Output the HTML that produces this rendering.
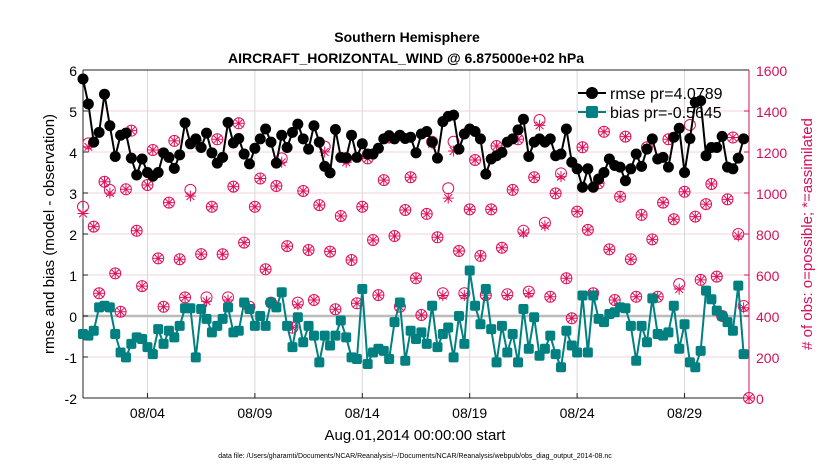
<!DOCTYPE html>
<html><head><meta charset="utf-8"><style>
body{margin:0;background:#fff;}
svg{display:block;font-family:"Liberation Sans",Arial,sans-serif;}
</style></head><body>
<svg id="chart" width="830" height="470" viewBox="0 0 830 470">
<g id="grid"></g>
<g id="axes"></g>
<g id="series"></g>
<text x="407" y="42" text-anchor="middle" font-size="14" font-weight="bold">Southern Hemisphere</text>
<text x="406" y="63" text-anchor="middle" font-size="14" font-weight="bold">AIRCRAFT_HORIZONTAL_WIND @ 6.875000e+02 hPa</text>
<text x="415" y="440" text-anchor="middle" font-size="15">Aug.01,2014 00:00:00 start</text>
<text x="415" y="458" text-anchor="middle" font-size="7">data file: /Users/gharamti/Documents/NCAR/Reanalysis/~/Documents/NCAR/Reanalysis/webpub/obs_diag_output_2014-08.nc</text>
<text transform="translate(54,234) rotate(-90)" text-anchor="middle" font-size="15">rmse and bias (model - observation)</text>
<text transform="translate(812,234) rotate(-90)" text-anchor="middle" font-size="15" fill="#d6105a"># of obs: o=possible; *=assimilated</text>
<g id="legend"></g>
</svg>
<script>
const xTickLabels=["08/04","08/09","08/14","08/19","08/24","08/29"];
const xTickDays=[3,8,13,18,23,28];
const leftTicks=[-2,-1,0,1,2,3,4,5,6];
const rightTicks=[0,200,400,600,800,1000,1200,1400,1600];
const rmse=[5.78,5.17,4.24,4.48,5.41,4.64,3.89,4.41,4.46,3.85,3.44,3.83,3.5,3.41,3.5,3.98,3.87,3.6,3.93,4.71,4.2,4.32,4.11,4.46,3.98,3.73,3.87,4.72,4.22,4.33,3.95,3.71,
4.09,4.32,4.56,4.24,3.73,4.41,4.11,4.48,4.68,4.32,4.07,4.64,4.24,3.65,3.49,4.55,3.87,3.86,4.41,3.87,4.2,3.95,3.95,4.09,4.32,4.4,4.32,4.41,4.33,
4.36,3.98,4.44,4.5,4.24,3.85,4.74,4.87,4.9,4.07,4.44,4.56,4.5,4.32,3.46,3.83,3.91,3.99,4.24,4.32,4.54,4.8,3.89,4.24,4.32,4.24,4.32,3.91,3.95,4.56,3.75,3.59,3.14,
3.59,3.14,3.34,3.5,3.83,3.67,3.63,3.3,3.59,3.95,3.65,4.07,4.32,3.83,3.87,3.63,4.36,4.58,3.5,4.33,5.21,5.25,3.91,4.11,4.11,4.38,3.63,3.59,3.85,4.32];
const bias=[-0.44,-0.48,-0.36,0.21,0.25,0.21,-0.44,-0.89,-1.01,-0.68,-0.52,-0.56,-0.76,-0.93,-0.32,-0.68,-0.36,-0.52,-0.24,0.19,0.19,-1.01,0.17,-0.07,-0.4,-0.24,-0.07,0.21,-0.4,-0.36,0.33,0.17,
-0.24,0,-0.24,0.33,0.21,0.58,-0.24,-0.76,-0.03,-0.64,-0.24,-0.48,-1.13,-0.48,-0.72,-0.48,-0.11,-0.52,-1.01,-1.05,0.66,-1.17,-0.89,-0.8,-0.85,-1.05,-0.15,0.33,-1.09,-0.36,-0.56,
-0.4,-0.68,0.25,-0.76,-0.44,-0.28,-1.01,0,-0.68,1.11,0.25,-0.2,0.66,-0.32,-1.13,-0.24,-0.89,-0.44,-1.13,0.17,-0.8,-0.03,-0.97,-0.8,-0.48,-0.93,-1.25,-0.36,-0.72,-0.89,0.5,
-0.89,0.5,-0.07,-0.15,0.05,0.09,0.21,0.19,-0.24,-1.09,-0.24,-0.64,0.43,-0.44,-0.48,-0.4,0.25,-0.8,-0.2,-1.13,-1.25,-0.85,0.62,0.41,0.13,0,-0.15,-0.36,0.74,-0.93];
const possible=[933,1242,836,511,1055,1015,608,421,1018,1304,816,546,1039,1210,681,445,953,1254,677,491,1015,1255,702,491,933,1262,701,491,1031,1340,758,
445,933,1071,628,465,1034,1169,741,343,465,1010,722,478,941,1226,714,433,888,1169,673,462,933,1169,771,502,1063,1271,790,445,917,1077,584,405,
898,1250,784,511,1023,1250,717,511,920,1161,693,502,920,1229,733,506,1015,1262,816,519,1077,1356,855,494,998,1096,584,389,909,1223,820,
511,1047,1299,725,478,982,1275,677,494,893,1223,774,494,953,1262,872,556,1006,1332,885,576,946,1044,592,400,969,1271,800,449,0];
const assimilated=[900,1225,836,511,1055,1000,608,421,1018,1304,816,546,1039,1210,681,445,953,1254,677,491,985,1240,702,472,933,1262,701,478,1031,1340,758,
440,933,1071,628,465,1034,1150,741,343,455,1010,722,478,941,1200,714,433,888,1150,673,462,933,1169,771,502,1063,1271,790,445,917,1077,584,405,
898,1240,784,500,975,1205,717,500,920,1161,693,502,920,1229,733,500,1015,1262,805,510,1077,1330,840,494,998,1080,584,389,909,1223,820,
511,1047,1299,725,478,982,1275,677,494,893,1223,774,494,953,1262,872,531,1006,1262,885,576,946,1044,592,400,969,1271,790,440,0];

const NS="http://www.w3.org/2000/svg";
const L=83,R=749,T=70,B=398;
const x=d=>L+(d/31)*(R-L);
const yl=v=>B-(v+2)/8*(B-T);
const yr=v=>B-v/1600*(B-T);
function mk(tag,attrs,parent){const e=document.createElementNS(NS,tag);for(const k in attrs)e.setAttribute(k,attrs[k]);parent.appendChild(e);return e;}
const grid=document.getElementById('grid'),axes=document.getElementById('axes'),ser=document.getElementById('series'),leg=document.getElementById('legend');

leftTicks.forEach((v,i)=>{
  const g=mk('line',{x1:L,x2:R,y1:yl(v),y2:yl(v),stroke:'#f2d3de','stroke-width':1},grid);
  
  
  const t=mk('text',{x:L-6,y:yl(v)+6,'text-anchor':'end','font-size':14},axes);t.textContent=v;
  
  
  mk('line',{x1:L,x2:L+5,y1:yl(v),y2:yl(v),stroke:'#222'},axes);
});
rightTicks.forEach(v=>{
  const t=mk('text',{x:R+7,y:yr(v)+6,'font-size':14,fill:'#d6105a'},axes);t.textContent=v;
  
  
  mk('line',{x1:R-5,x2:R,y1:yr(v),y2:yr(v),stroke:'#d6105a'},axes);
});
xTickDays.forEach((d,i)=>{
  const g=mk('line',{x1:x(d),x2:x(d),y1:T,y2:B,stroke:'#d8d8d8','stroke-width':1},grid);
  
  
  mk('line',{x1:x(d),x2:x(d),y1:B,y2:B-5,stroke:'#222'},axes);
  const t=mk('text',{x:x(d),y:B+20,'text-anchor':'middle','font-size':14},axes);t.textContent=xTickLabels[i];
  
  
});
const zl=mk('line',{x1:L,x2:R,y1:yl(0),y2:yl(0),stroke:'#bbb','stroke-width':2.5},grid);


mk('line',{x1:L,x2:R,y1:T,y2:T,stroke:'#222'},axes);
mk('line',{x1:L,x2:R,y1:B,y2:B,stroke:'#222'},axes);
mk('line',{x1:L,x2:L,y1:T,y2:B,stroke:'#222'},axes);
mk('line',{x1:R,x2:R,y1:T,y2:B,stroke:'#d6105a'},axes);

possible.forEach((v,i)=>{
  const c=mk('circle',{cx:x(i/4),cy:yr(v),r:5.5,fill:'none',stroke:'#e0105a','stroke-width':1},ser);
  
  
});
assimilated.forEach((v,i)=>{
  const cx=x(i/4),cy=yr(v),s=5.5,d=s*0.707;
  const p=mk('path',{d:`M${cx-s},${cy}H${cx+s}M${cx},${cy-s}V${cy+s}M${cx-d},${cy-d}L${cx+d},${cy+d}M${cx-d},${cy+d}L${cx+d},${cy-d}`,stroke:'#e0105a','stroke-width':1,fill:'none'},ser);
  
  
});
const rl=mk('polyline',{points:rmse.map((v,i)=>x(i/4)+','+yl(v)).join(' '),fill:'none',stroke:'#000','stroke-width':2},ser);


rmse.forEach((v,i)=>{
  const c=mk('circle',{cx:x(i/4),cy:yl(v),r:5.5,fill:'#000'},ser);
  
  
});
const bl=mk('polyline',{points:bias.map((v,i)=>x(i/4)+','+yl(v)).join(' '),fill:'none',stroke:'#008080','stroke-width':2},ser);


bias.forEach((v,i)=>{
  const r=mk('rect',{x:x(i/4)-5,y:yl(v)-5,width:10,height:10,rx:2,fill:'#008080'},ser);
  
  
});
mk('line',{x1:578,x2:606,y1:93,y2:93,stroke:'#000','stroke-width':2},leg);
mk('circle',{cx:592,cy:93,r:6,fill:'#000'},leg);
const t1=mk('text',{x:610,y:99,'font-size':16},leg);t1.textContent='rmse pr=4.0789';


mk('line',{x1:578,x2:606,y1:112,y2:112,stroke:'#008080','stroke-width':2},leg);
mk('rect',{x:586,y:106,width:12,height:12,rx:2,fill:'#008080'},leg);
const t2=mk('text',{x:610,y:118,'font-size':16},leg);t2.textContent='bias pr=-0.5645';


</script>
</body></html>
